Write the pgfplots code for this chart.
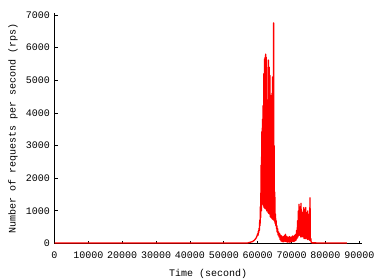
\documentclass[border=0pt]{standalone}
\usepackage{fontspec}
\setmainfont{Liberation Mono}
\usepackage{pgfplots}
\pgfplotsset{compat=1.18}
\pgfplotstableread{
t v
0 15
57000 15
57500 30
58000 45
58500 60
59000 100
59500 160
59800 230
60000 300
60100 250
60200 380
60300 330
60400 470
60500 400
60600 720
60700 550
60800 1130
60900 800
61000 2400
61100 1000
61200 3420
61300 1250
61400 3800
61500 1200
61600 4220
61700 1150
61800 5200
61900 1100
62000 5650
62100 1080
62200 5700
62300 1070
62350 5800
62450 1050
62550 5700
62650 1000
62750 4290
62850 1000
62950 4400
63050 950
63150 5620
63250 920
63400 5400
63500 900
63600 5150
63700 820
63800 4540
63900 800
64000 4500
64100 780
64200 4600
64300 750
64350 5100
64450 740
64550 5000
64650 720
64700 6760
64750 720
64850 3000
64950 680
65050 1575
65150 615
65250 900
65350 550
65450 700
65550 450
65650 550
65750 350
65900 450
66000 260
66200 350
66300 200
66500 300
66600 120
66800 250
66900 80
67100 230
67200 60
67400 200
67500 50
67700 220
67800 60
68000 250
68100 70
68200 280
68300 60
68500 220
68600 50
68800 200
68900 40
69100 190
69200 50
69400 210
69500 40
69700 190
69800 50
70000 200
70100 60
70300 230
70400 70
70600 210
70700 60
70900 250
71000 80
71200 280
71300 100
71500 400
71600 150
71800 700
71900 200
72000 1000
72100 250
72200 1200
72300 250
72400 900
72500 300
72600 1130
72700 200
72800 1230
72900 250
73000 1000
73100 200
73200 850
73300 250
73400 950
73500 200
73600 1100
73700 150
73800 900
73900 200
74000 1050
74100 150
74200 1100
74300 200
74400 800
74500 150
74600 950
74700 120
74800 1000
74900 150
75000 700
75100 120
75200 900
75300 100
75450 1400
75550 100
75700 150
75800 30
76000 20
80000 15
86350 15
}\rpsdata
\begin{document}
\fontsize{10bp}{12bp}\selectfont
\begin{tikzpicture}
\useasboundingbox (-54.5bp,-36.5bp) rectangle (325.5bp,243.5bp);
\begin{axis}[
  scale only axis, width=307.5bp, height=230.5bp,
  xmin=0, xmax=90800, ymin=0, ymax=7060,
  axis x line=bottom, axis y line=left,
  axis line style={-, line width=0.8bp, black},
  tick align=inside, major tick length=3bp,
  tick style={line width=0.8bp, black},
  xtick={0,10000,...,90000}, ytick={0,1000,...,7000},
  scaled x ticks=false, scaled y ticks=false,
  /pgf/number format/1000 sep={},
  /pgf/number format/assume math mode=true,
  xticklabel style={anchor=center, yshift=-12.2bp},
  yticklabel style={anchor=east, inner sep=0pt, xshift=-4.5bp},
  xlabel={Time (second)},
  ylabel={Number of requests per second (rps)},
  every axis x label/.style={at={(axis description cs:0.5,-0.1323)}, anchor=center},
  every axis y label/.style={at={(axis description cs:-0.135,0.5)}, anchor=center, rotate=90},
  clip=false,
]
\addplot[red, line width=1.3bp, mark=none, line join=round] table[x=t, y=v] {\rpsdata};
\end{axis}
\end{tikzpicture}
\end{document}
